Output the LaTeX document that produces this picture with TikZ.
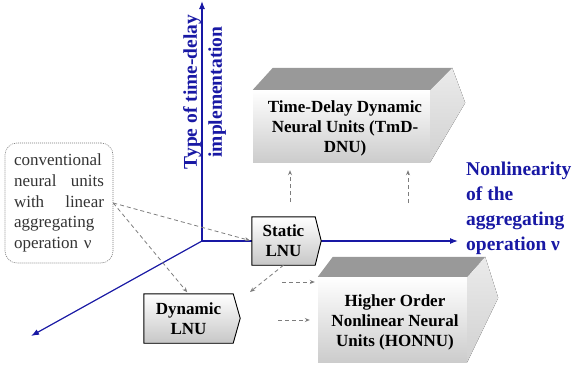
\documentclass[tikz,border=0pt]{standalone}
\usepackage{fontspec}
\setmainfont{Liberation Serif}
\usetikzlibrary{arrows.meta}
\definecolor{axisblue}{RGB}{24,24,164}
\definecolor{linkgray}{RGB}{125,125,125}
\definecolor{notegray}{RGB}{120,120,120}
\begin{document}
\begin{tikzpicture}[x=1pt,y=-1pt,
  axis/.style={draw=axisblue, line width=1.2pt, -{Latex[length=8pt,width=6pt]}},
  axislabel/.style={text=axisblue, font=\fontsize{19.5}{25}\selectfont\bfseries, inner sep=0pt},
  face/.style={rectangle, inner sep=0pt, top color=white, bottom color=black!20},
  topface/.style={fill=black!40},
  sideface/.style={top color=black!8, bottom color=black!18},
  boxtext/.style={font=\fontsize{17}{20}\selectfont\bfseries, align=center, inner sep=0pt},
  lnubody/.style={rectangle, inner sep=0pt, top color=white, bottom color=black!22,
    font=\fontsize{17}{20}\selectfont\bfseries, align=center},
  lnuedge/.style={draw=black, line width=0.9pt},
  lnutip/.style={top color=white, bottom color=black!22},
  link/.style={draw=linkgray, dash pattern=on 4pt off 3pt, line width=0.8pt,
    -{Stealth[length=5pt,width=4pt]}},
  note/.style={draw=notegray, dash pattern=on 1pt off 1pt, line width=0.6pt,
    rounded corners=12pt, minimum width=108pt, minimum height=120pt,
    text width=90pt, inner xsep=9pt, align=left, font=\fontsize{17}{20.7}\selectfont,
    text=black!80}
]
\useasboundingbox (0,0) rectangle (578,364);

% axes
\coordinate (O) at (202,241);
\coordinate (vtip) at (202,1);
\coordinate (htip) at (458,241);
\coordinate (dtip) at (31,336);
\draw[axis] (O) -- (vtip);
\draw[axis] (O) -- (htip);
\draw[axis] (O) -- (dtip);

% axis titles
\node[axislabel, rotate=90, align=center] (vlabel) at (204.5,92)
  {Type of time-delay\\implementation};
\node[axislabel, align=left, anchor=north west] (hlabel) at (466,161.5)
  {Nonlinearity\\of the\\aggregating\\operation ν};

% time-delay dynamic neural units block
\node[face, minimum width=177pt, minimum height=72pt] (tmd) at (341.5,126) {};
\fill[topface] (tmd.north west) -- ++(20,-22) -- ++(179,0) -- (tmd.north east) -- cycle;
\fill[sideface] (tmd.north east) -- ++(22,-22) -- ++(13,35) -- (tmd.south east) -- cycle;
\node[boxtext] (tmdtext) at (345,128.5) {Time-Delay Dynamic\\Neural Units (TmD-\\DNU)};

% higher order nonlinear neural units block
\node[face, minimum width=149pt, minimum height=85pt] (honnu) at (392.5,319.5) {};
\fill[topface] (honnu.north west) -- ++(15,-20) -- ++(152,0) -- (honnu.north east) -- cycle;
\fill[sideface] (honnu.north east) -- ++(18,-20) -- ++(13,41) -- (honnu.south east) -- cycle;
\node[boxtext] (honnutext) at (395,322) {Higher Order\\Nonlinear Neural\\Units (HONNU)};

% linear neural units: shaded body, pointed right end, outline
\node[lnubody, minimum width=63pt, minimum height=48pt] (static) at (283.5,241) {Static\\LNU};
\fill[lnutip] (static.north east) -- ++(6,24) -- (static.south east) -- cycle;
\draw[lnuedge] (static.north east) -- ++(6,24) -- (static.south east)
  -- (static.south west) -- (static.north west) -- cycle;

\node[lnubody, minimum width=89pt, minimum height=49pt] (dyn) at (188.5,318.5) {Dynamic\\LNU};
\fill[lnutip] (dyn.north east) -- ++(7,24.5) -- (dyn.south east) -- cycle;
\draw[lnuedge] (dyn.north east) -- ++(7,24.5) -- (dyn.south east)
  -- (dyn.south west) -- (dyn.north west) -- cycle;

% conventional units note
\node[note] (conv) at (59,203)
  {conventional\\neural\hfill units\\with\hfill linear\\aggregating\\operation ν};

% links
\coordinate (dstub) at (250,292);
\coordinate (h1) at (282,282);
\coordinate (h2) at (278,320);
\coordinate (v1) at (290,202);
\coordinate (v2) at (408,203);
\draw[link, shorten >=2pt] (conv.east) -- (static.west);
\draw[link, shorten >=2pt] (conv.east) -- (dyn.north);
\draw[link] (static.south) -- (dstub);
\draw[link, shorten >=3pt] (h1) -- (h1 -| honnu.west);
\draw[link, shorten >=8pt] (h2) -- (h2 -| honnu.west);
\draw[link, shorten >=8pt] (v1) -- (v1 |- tmd.south);
\draw[link, shorten >=8pt] (v2) -- (v2 |- tmd.south);
\end{tikzpicture}
\end{document}
